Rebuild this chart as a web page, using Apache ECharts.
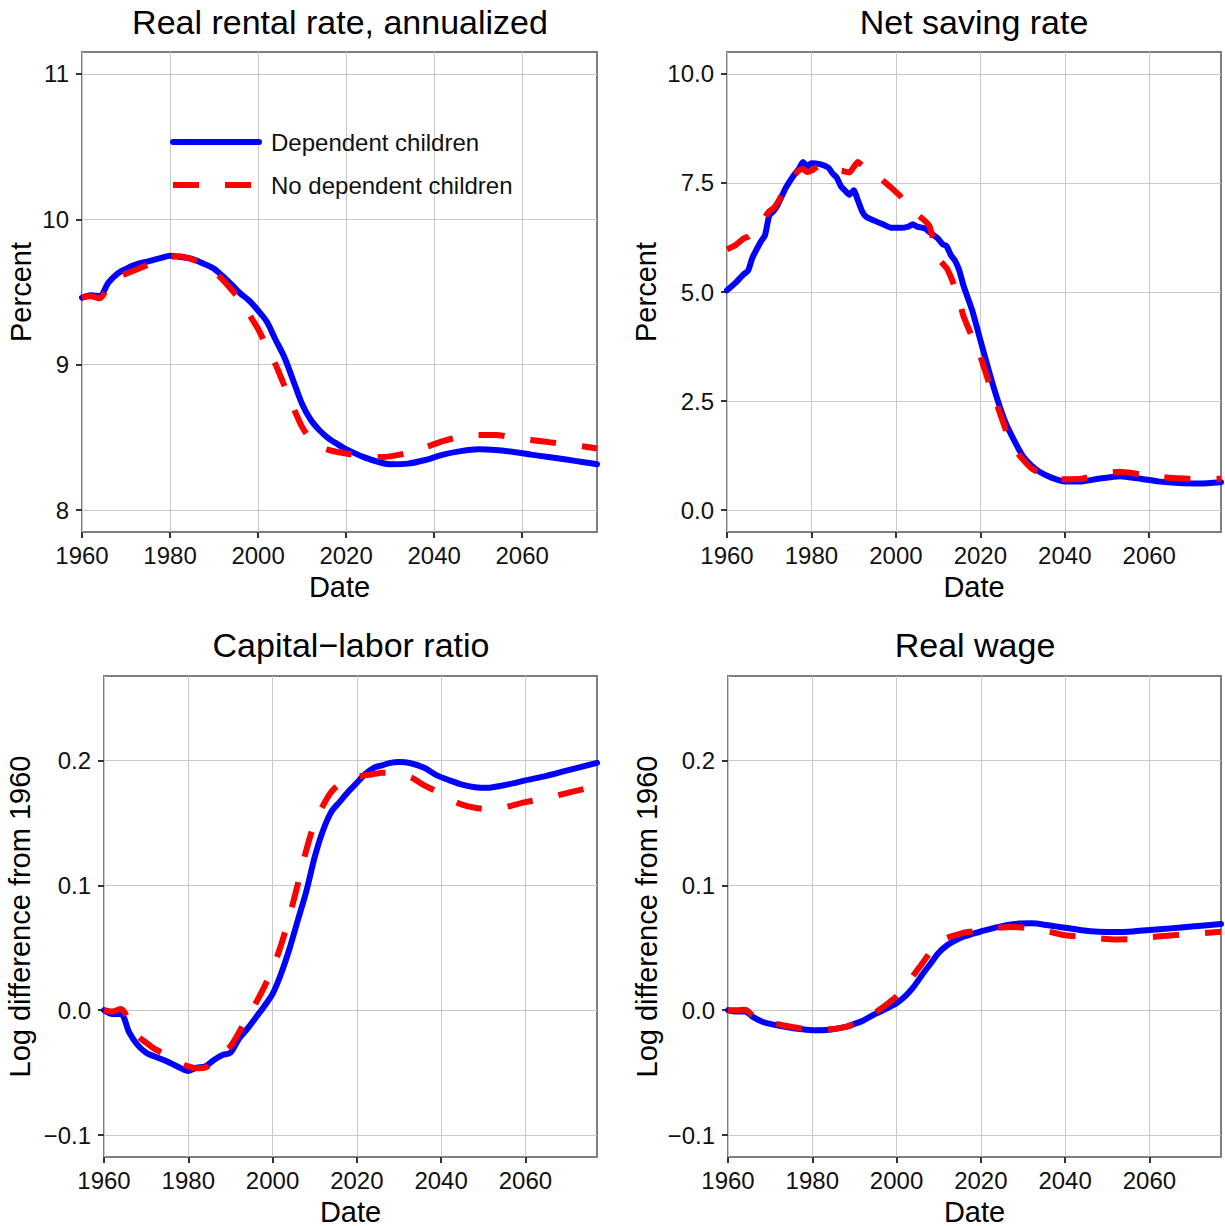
<!DOCTYPE html>
<html><head><meta charset="utf-8">
<script src="https://cdn.jsdelivr.net/npm/echarts@6/dist/echarts.min.js"></script>
<style>html,body{margin:0;padding:0;background:#fff}#c{width:1225px;height:1226px}</style>
</head><body><div id="c"></div>
<script>
// ---- tick values ----
const xTicks = [1960, 1980, 2000, 2020, 2040, 2060];
const rentalTicks = [8, 9, 10, 11];
const savingTicks = [0, 2.5, 5, 7.5, 10];
const logTicks = [-0.1, 0, 0.1, 0.2];

// ---- Real rental rate, annualized ----
const rentalYears = [1960,1962,1964,1966,1968,1970,1972,1975,1978,1980,1982,1985,1988,1990,1992,1994,1996,1998,2000,2002,2004,2006,2008,2010,2012,2014,2016,2018,2020,2024,2028,2030,2034,2038,2042,2046,2050,2054,2058,2062,2066,2070,2074,2077];
const rentalDep = [9.461,9.478,9.473,9.564,9.625,9.659,9.686,9.711,9.735,9.75,9.742,9.728,9.69,9.66,9.608,9.55,9.49,9.44,9.373,9.295,9.17,9.05,8.89,8.73,8.62,8.548,8.494,8.455,8.42,8.365,8.326,8.316,8.32,8.345,8.382,8.406,8.419,8.414,8.40,8.382,8.365,8.348,8.33,8.316];
const rentalNoDep = [9.461,9.47,9.456,9.54,9.60,9.625,9.65,9.686,9.72,9.74,9.745,9.725,9.686,9.642,9.583,9.515,9.441,9.344,9.246,9.123,9.0,8.854,8.707,8.573,8.487,8.438,8.414,8.40,8.39,8.37,8.365,8.37,8.394,8.433,8.475,8.504,8.517,8.517,8.50,8.482,8.468,8.453,8.438,8.424];

// ---- Net saving rate ----
const savingYears = [1960,1962,1964,1965,1966,1968,1969,1970,1971,1972,1974,1976,1977,1978,1979,1980,1982,1984,1985,1986,1987,1988,1989,1990,1991,1992,1993,1995,1997,1999,2001,2003,2004,2005,2007,2008,2010,2011,2012,2013,2014,2015,2016,2018,2020,2022,2024,2026,2028,2030,2032,2034,2037,2040,2044,2048,2053,2058,2062,2067,2072,2077];
const savingDep = [5.04,5.21,5.41,5.49,5.78,6.15,6.3,6.75,6.85,7.0,7.4,7.7,7.82,7.98,7.88,7.95,7.93,7.85,7.72,7.62,7.42,7.32,7.23,7.33,7.1,6.85,6.72,6.63,6.55,6.47,6.47,6.5,6.55,6.5,6.45,6.37,6.22,6.1,6.05,5.85,5.72,5.5,5.15,4.6,3.9,3.2,2.55,2.0,1.6,1.25,1.03,0.88,0.74,0.66,0.66,0.72,0.78,0.72,0.66,0.62,0.61,0.64];
const savingNoDep = [5.98,6.07,6.23,6.27,6.35,6.55,6.72,6.85,6.92,7.05,7.4,7.68,7.78,7.82,7.75,7.78,7.9,7.85,7.8,7.77,7.78,7.76,7.74,7.86,7.98,7.9,7.85,7.72,7.55,7.38,7.2,6.98,6.85,6.78,6.62,6.5,5.78,5.66,5.55,5.35,5.1,4.8,4.45,3.98,3.53,2.93,2.4,1.85,1.42,1.17,0.97,0.85,0.73,0.71,0.72,0.82,0.88,0.82,0.77,0.73,0.71,0.72];

// ---- Capital-labor ratio ----
const capitalYears = [1960,1962,1964,1966,1968,1970,1972,1975,1978,1980,1982,1984,1986,1988,1990,1992,1994,1996,1998,2000,2002,2004,2006,2008,2010,2012,2014,2016,2018,2020,2022,2024,2026,2028,2030,2033,2036,2039,2042,2045,2048,2051,2054,2057,2060,2065,2070,2077];
const capitalDep = [0,-0.003,-0.003,-0.018,-0.028,-0.034,-0.037,-0.041,-0.046,-0.0486,-0.046,-0.045,-0.040,-0.036,-0.034,-0.023,-0.015,-0.006,0.003,0.013,0.029,0.049,0.072,0.095,0.1225,0.144,0.159,0.167,0.175,0.182,0.189,0.194,0.196,0.198,0.1986,0.1975,0.194,0.188,0.184,0.1805,0.1785,0.178,0.1795,0.1815,0.184,0.1876,0.192,0.198];
const capitalNoDep = [0,-0.001,0.001,-0.009,-0.0205,-0.026,-0.031,-0.036,-0.042,-0.045,-0.0465,-0.046,-0.041,-0.035,-0.029,-0.018,-0.006,0.0055,0.0185,0.033,0.052,0.075,0.101,0.128,0.15,0.164,0.175,0.181,0.185,0.187,0.188,0.189,0.19,0.19,0.189,0.186,0.18,0.175,0.169,0.1645,0.162,0.161,0.1615,0.164,0.1665,0.1697,0.174,0.1795];

// ---- Real wage ----
const wageYears = [1960,1962,1964,1966,1968,1970,1973,1976,1980,1984,1988,1990,1992,1995,1998,2000,2002,2004,2006,2008,2010,2012,2014,2016,2018,2020,2024,2028,2032,2036,2040,2044,2048,2052,2056,2060,2065,2070,2077];
const wageDep = [0,-0.001,-0.001,-0.0055,-0.009,-0.011,-0.013,-0.0147,-0.016,-0.0156,-0.0133,-0.011,-0.0084,-0.003,0.002,0.0055,0.011,0.0185,0.028,0.037,0.046,0.052,0.056,0.059,0.061,0.063,0.0665,0.069,0.0695,0.068,0.066,0.064,0.0628,0.0625,0.063,0.0642,0.0655,0.067,0.069];
const wageNoDep = [0,0,0.0003,-0.0046,-0.0078,-0.0098,-0.012,-0.0139,-0.0153,-0.0153,-0.0133,-0.011,-0.0075,-0.0017,0.0055,0.011,0.0185,0.028,0.037,0.0465,0.054,0.058,0.060,0.062,0.063,0.064,0.066,0.0665,0.0656,0.063,0.060,0.0587,0.0575,0.0566,0.0569,0.0584,0.0598,0.061,0.0627];

const FONT = '"Liberation Sans", Arial, Helvetica, sans-serif';
const pairs = (xs, ys) => xs.map((x, i) => [x, ys[i]]);
const minus = s => String(s).replace('-', '\u2212');

const gridBoxes = [
  {left: 82, top: 52, width: 515, height: 480},
  {left: 727, top: 52, width: 494, height: 480},
  {left: 104, top: 676, width: 493, height: 481},
  {left: 728, top: 676, width: 493, height: 481}
];
const grids = gridBoxes.map(g => Object.assign({show: true, borderColor: '#7f7f7f', borderWidth: 2, containLabel: false, outerBoundsMode: 'none'}, g));

const tickStyle = {show: true, length: 6, lineStyle: {color: '#333333', width: 2}};
const splitStyle = {show: true, lineStyle: {color: '#c8c8c8', width: 1}};
const labelBase = {fontSize: 24, color: '#111111', fontFamily: FONT};
const nameStyle = {fontSize: 29, color: '#000000', fontFamily: FONT};

const xAxes = [0, 1, 2, 3].map(i => ({
  type: 'value', gridIndex: i, min: 1960, max: 2077, position: 'bottom',
  name: 'Date', nameLocation: 'middle', nameGap: 40, nameTextStyle: nameStyle,
  axisLine: {show: false, onZero: false},
  axisTick: Object.assign({customValues: xTicks}, tickStyle),
  axisLabel: Object.assign({customValues: xTicks, margin: 11, formatter: v => String(v)}, labelBase),
  splitLine: splitStyle, minorTick: {show: false}
}));

const yDefs = [
  {min: 7.85, max: 11.15, ticks: rentalTicks, fmt: v => String(v), name: 'Percent', gap: 47},
  {min: -0.5, max: 10.5, ticks: savingTicks, fmt: v => v.toFixed(1), name: 'Percent', gap: 67},
  {min: -0.1175, max: 0.2675, ticks: logTicks, fmt: v => minus(v.toFixed(1)), name: 'Log difference from 1960', gap: 70},
  {min: -0.1175, max: 0.2675, ticks: logTicks, fmt: v => minus(v.toFixed(1)), name: 'Log difference from 1960', gap: 67}
];
const yAxes = yDefs.map((d, i) => ({
  type: 'value', gridIndex: i, min: d.min, max: d.max, position: 'left',
  name: d.name, nameLocation: 'middle', nameGap: d.gap, nameRotate: 90, nameTextStyle: nameStyle,
  axisLine: {show: false, onZero: false},
  axisTick: Object.assign({customValues: d.ticks}, tickStyle),
  axisLabel: Object.assign({customValues: d.ticks, margin: 13, formatter: d.fmt}, labelBase),
  splitLine: splitStyle, minorTick: {show: false}
}));

const panels = [
  [rentalYears, rentalDep, rentalNoDep],
  [savingYears, savingDep, savingNoDep],
  [capitalYears, capitalDep, capitalNoDep],
  [wageYears, wageDep, wageNoDep]
];
const series = [];
panels.forEach((p, i) => {
  series.push({
    type: 'line', name: 'Dependent children', xAxisIndex: i, yAxisIndex: i,
    data: pairs(p[0], p[1]), symbol: 'none', showSymbol: false, smooth: i === 1 ? 0.2 : 0.3,
    lineStyle: {color: '#0000ff', width: 6, join: 'round', cap: 'round'}, itemStyle: {color: '#0000ff'}, z: 2
  });
  series.push({
    type: 'line', name: 'No dependent children', xAxisIndex: i, yAxisIndex: i,
    data: pairs(p[0], p[2]), symbol: 'none', showSymbol: false, smooth: i === 1 ? 0.2 : 0.3,
    lineStyle: {color: '#ff0000', width: 6, type: [26, 26], cap: 'butt', join: 'round'}, itemStyle: {color: '#ff0000'}, z: 3
  });
});

const titleStyle = {fontSize: 34, fontWeight: 'normal', color: '#000000', fontFamily: FONT};
const titles = [
  {text: 'Real rental rate, annualized', left: 340, top: 5},
  {text: 'Net saving rate', left: 974, top: 5},
  {text: 'Capital\u2212labor ratio', left: 351, top: 628},
  {text: 'Real wage', left: 975, top: 628}
].map(t => Object.assign({textAlign: 'center', padding: 0, textStyle: titleStyle}, t));

const chart = echarts.init(document.getElementById('c'), null, {renderer: 'svg', width: 1225, height: 1226});
chart.setOption({
  animation: false,
  backgroundColor: '#ffffff',
  title: titles,
  legend: {
    data: ['Dependent children', 'No dependent children'],
    orient: 'vertical', left: 170, top: 130, padding: 0,
    itemWidth: 86, itemHeight: 24, itemGap: 19,
    itemStyle: {opacity: 0, borderWidth: 0},
    lineStyle: {width: 6},
    textStyle: {fontSize: 24, color: '#111111', fontFamily: FONT, padding: [0, 0, 0, 7]},
    selectedMode: false
  },
  grid: grids,
  xAxis: xAxes,
  yAxis: yAxes,
  series: series
});
</script>
</body></html>
